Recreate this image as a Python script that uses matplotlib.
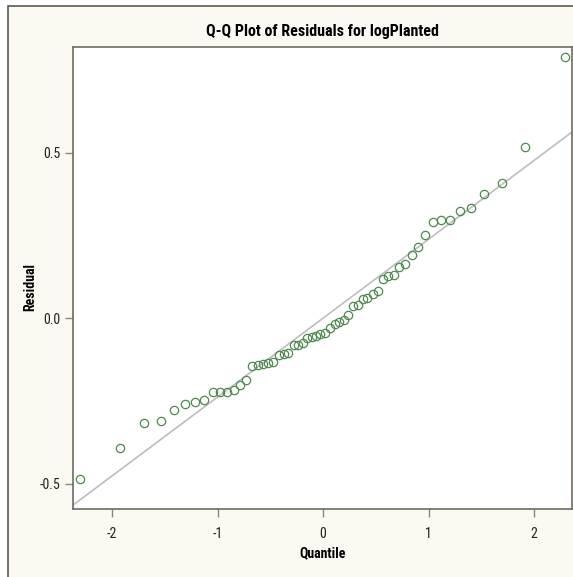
import os
import matplotlib
matplotlib.use("Agg")
import matplotlib.pyplot as plt
from matplotlib.patches import Rectangle
from matplotlib import font_manager
from matplotlib.font_manager import FontProperties

# normal quantiles and sorted residuals
quantile = [-2.300, -1.921, -1.697, -1.536, -1.415, -1.305, -1.213, -1.128,
            -1.047, -0.974, -0.907, -0.848, -0.787, -0.730, -0.673, -0.621,
            -0.571, -0.521, -0.474, -0.415, -0.374, -0.334, -0.278, -0.235,
            -0.194, -0.149, -0.104, -0.064, -0.024, 0.019, 0.066, 0.111,
            0.155, 0.196, 0.234, 0.284, 0.328, 0.377, 0.420, 0.470,
            0.518, 0.569, 0.619, 0.670, 0.720, 0.780, 0.844, 0.900,
            0.970, 1.045, 1.121, 1.207, 1.301, 1.403, 1.529, 1.694,
            1.915, 2.297]
residual = [-0.487, -0.393, -0.318, -0.311, -0.277, -0.259, -0.252, -0.246,
            -0.223, -0.224, -0.223, -0.216, -0.203, -0.187, -0.144, -0.142,
            -0.140, -0.137, -0.133, -0.111, -0.107, -0.104, -0.082, -0.080,
            -0.074, -0.060, -0.056, -0.053, -0.047, -0.044, -0.029, -0.017,
            -0.013, -0.006, 0.011, 0.037, 0.039, 0.058, 0.060, 0.073,
            0.083, 0.119, 0.129, 0.131, 0.155, 0.164, 0.191, 0.215,
            0.252, 0.291, 0.298, 0.297, 0.324, 0.334, 0.375, 0.410,
            0.519, 0.789]

# reference line: intercept and slope
line_mu = 0.0
line_sigma = 0.2385

xticks = [-2, -1, 0, 1, 2]
xtick_labels = ["-2", "-1", "0", "1", "2"]
yticks = [-0.5, 0.0, 0.5]
ytick_labels = ["-0.5", "0.0", "0.5"]


def find_narrow():
    # look for a condensed sans face on the system, regular + bold
    files = {os.path.splitext(os.path.basename(f.fname))[0]: f.fname
             for f in font_manager.fontManager.ttflist}
    keys = ["LiberationSansNarrow", "ArialNarrow", "RobotoCondensed",
            "NotoSans-Condensed", "OpenSansCondensed", "DejaVuSansCondensed"]
    for key in keys:
        reg = files.get(key + "-Regular") or files.get(key)
        bold = files.get(key + "-Bold") or files.get(key + "Bold")
        if reg and bold:
            return reg, bold
    return None, None


reg_file, bold_file = find_narrow()
if reg_file:
    def fp(size, bold=False):
        return FontProperties(fname=bold_file if bold else reg_file, size=size)
    title_size, label_size, tick_size = 11.5, 10, 10
else:
    def fp(size, bold=False):
        return FontProperties(family="Liberation Sans",
                              weight="bold" if bold else "normal", size=size)
    title_size, label_size, tick_size = 9.5, 9, 9

W, H = 573, 577
fig = plt.figure(figsize=(W / 100, H / 100), dpi=100, facecolor="white")

# cream frame behind everything
frame = Rectangle((8 / W, -0.01), 1.0, 1 - 6 / H + 0.01,
                  transform=fig.transFigure, facecolor="#fcf9f2",
                  edgecolor="#5b5a4e", linewidth=1.2, zorder=-10)
fig.patches.append(frame)

ax = fig.add_axes([73.3 / W, 1 - 509 / H, (571.7 - 73.3) / W, (509 - 47) / H])
ax.set_zorder(5)
ax.set_facecolor("white")
for spine in ax.spines.values():
    spine.set_color("#6e6c60")
    spine.set_linewidth(1.2)

xlim = (-2.367, 2.357)
ax.set_xlim(*xlim)
ax.set_ylim(-0.577, 0.820)

ax.plot(list(xlim), [line_mu + line_sigma * xlim[0], line_mu + line_sigma * xlim[1]],
        color="#bdbdbd", linewidth=1.2, zorder=1)
ax.plot(quantile, residual, linestyle="none", marker="o", markersize=6,
        markerfacecolor="none", markeredgecolor="#4e8a4e", markeredgewidth=0.9,
        zorder=2, clip_on=False)

ax.set_xticks(xticks)
ax.set_xticklabels(xtick_labels, fontproperties=fp(tick_size))
ax.set_yticks(yticks)
ax.set_yticklabels(ytick_labels, fontproperties=fp(tick_size))
ax.tick_params(axis="x", direction="out", length=6, width=1, color="#8a887c",
               labelcolor="#222222", pad=7)
ax.tick_params(axis="y", direction="out", length=6, width=1, color="#8a887c",
               labelcolor="#222222", pad=3)

ax.set_xlabel("Quantile", fontproperties=fp(label_size, True), va="center")
ax.xaxis.set_label_coords(0.5, -0.095)
ax.set_ylabel("Residual", fontproperties=fp(label_size, True), va="center")
ax.yaxis.set_label_coords(-0.087, 0.48)
ax.text(0.5, 1.0346, "Q-Q Plot of Residuals for logPlanted",
        transform=ax.transAxes, ha="center", va="center",
        fontproperties=fp(title_size, True))

fig.savefig("out.png", dpi=100, facecolor=fig.get_facecolor())
